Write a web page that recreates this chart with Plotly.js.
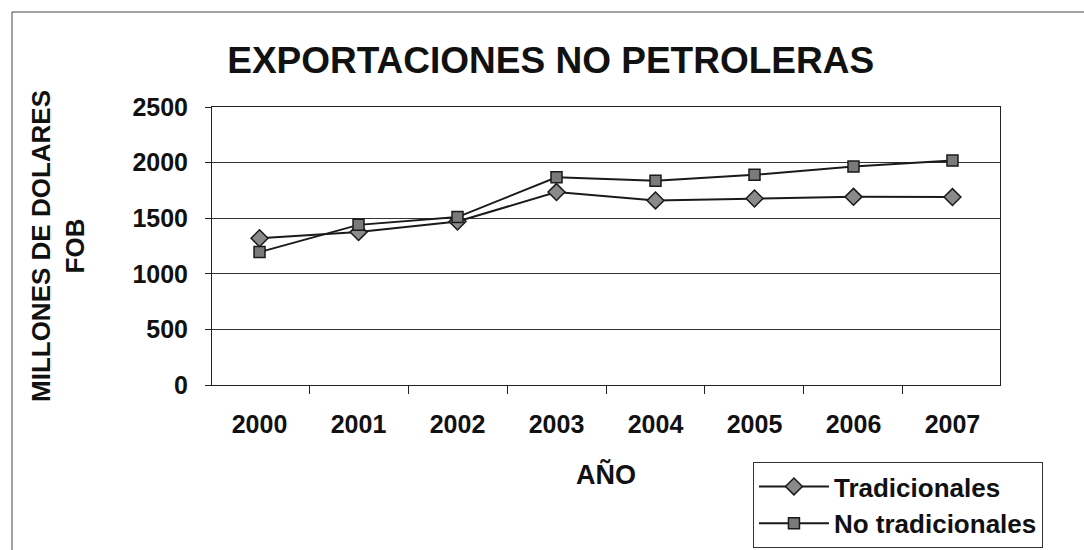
<!DOCTYPE html>
<html>
<head>
<meta charset="utf-8">
<script src="https://cdn.plot.ly/plotly-3.0.1.min.js"></script>
<style>
  html, body { margin: 0; padding: 0; background: #ffffff; }
  #chart { width: 1084px; height: 550px; }
</style>
</head>
<body>
<div id="chart"></div>
<script>
// Data
const years = ['2000', '2001', '2002', '2003', '2004', '2005', '2006', '2007'];
const tradicionales = [1320, 1375, 1470, 1735, 1660, 1677, 1692, 1690];
const noTradicionales = [1195, 1440, 1510, 1868, 1837, 1890, 1964, 2018];
const seriesNames = ['Tradicionales', 'No tradicionales'];
const yTicks = [0, 500, 1000, 1500, 2000, 2500];

const FONT = 'Liberation Sans, Arial, sans-serif';

const traces = [
  {
    x: years, y: tradicionales, name: seriesNames[0], type: 'scatter', mode: 'lines+markers',
    line: { color: '#1a1a1a', width: 2 },
    marker: { symbol: 'diamond', size: 13, color: '#8a8a8a', line: { color: '#1a1a1a', width: 1.5 } }
  },
  {
    x: years, y: noTradicionales, name: seriesNames[1], type: 'scatter', mode: 'lines+markers',
    line: { color: '#1a1a1a', width: 2 },
    marker: { symbol: 'square', size: 11, color: '#7a7a7a', line: { color: '#1a1a1a', width: 1.5 } }
  }
];

const layout = {
  width: 1084, height: 550,
  margin: { l: 212, r: 84, t: 107, b: 165, pad: 0, autoexpand: false },
  paper_bgcolor: '#ffffff', plot_bgcolor: '#ffffff',
  font: { family: FONT, color: '#111111' },
  showlegend: true,
  title: {
    text: '<b>EXPORTACIONES NO PETROLERAS</b>',
    font: { family: FONT, size: 37, color: '#111111' },
    xref: 'container', yref: 'container', x: 0.508, xanchor: 'center', y: 0.89, yanchor: 'middle'
  },
  xaxis: {
    type: 'category',
    tickvals: years, ticktext: years,
    tickson: 'boundaries',
    ticks: 'outside', ticklen: 8, tickcolor: '#222', tickwidth: 1,
    showline: true, linecolor: '#222', linewidth: 1, mirror: true,
    showgrid: false, zeroline: false, automargin: false,
    tickfont: { family: FONT, size: 25, color: '#111', weight: 'bold' },
    ticklabelstandoff: 17,
    title: { text: '<b>AÑO</b>', font: { family: FONT, size: 27, color: '#111' }, standoff: 28 }
  },
  yaxis: {
    range: [0, 2500], tickvals: yTicks, ticktext: yTicks.map(String),
    ticks: 'outside', ticklen: 6, tickcolor: '#222', tickwidth: 1,
    showline: true, linecolor: '#222', linewidth: 1, mirror: true,
    showgrid: true, gridcolor: '#333333', gridwidth: 1, zeroline: false, automargin: false,
    tickfont: { family: FONT, size: 25, color: '#111', weight: 'bold' },
    ticklabelstandoff: 12,
    title: { text: '<b>MILLONES DE DOLARES<br>FOB</b>', font: { family: FONT, size: 26, color: '#111' }, standoff: 40 }
  },
  legend: {
    x: 0.6865, xanchor: 'left', y: -0.277, yanchor: 'top',
    bgcolor: '#ffffff', bordercolor: '#333', borderwidth: 1,
    font: { family: FONT, size: 26, color: '#111', weight: 'bold' },
    itemwidth: 70,
    tracegroupgap: 0
  },
  shapes: [
    { type: 'line', xref: 'paper', yref: 'paper', x0: -0.2538, x1: -0.2538, y0: 1.3417, y1: -0.60, line: { color: '#444', width: 1 } },
    { type: 'line', xref: 'paper', yref: 'paper', x0: -0.2538, x1: 1.11, y0: 1.3417, y1: 1.3417, line: { color: '#444', width: 1 } }
  ]
};

Plotly.newPlot('chart', traces, layout, { displayModeBar: false, staticPlot: true });
</script>
</body>
</html>
